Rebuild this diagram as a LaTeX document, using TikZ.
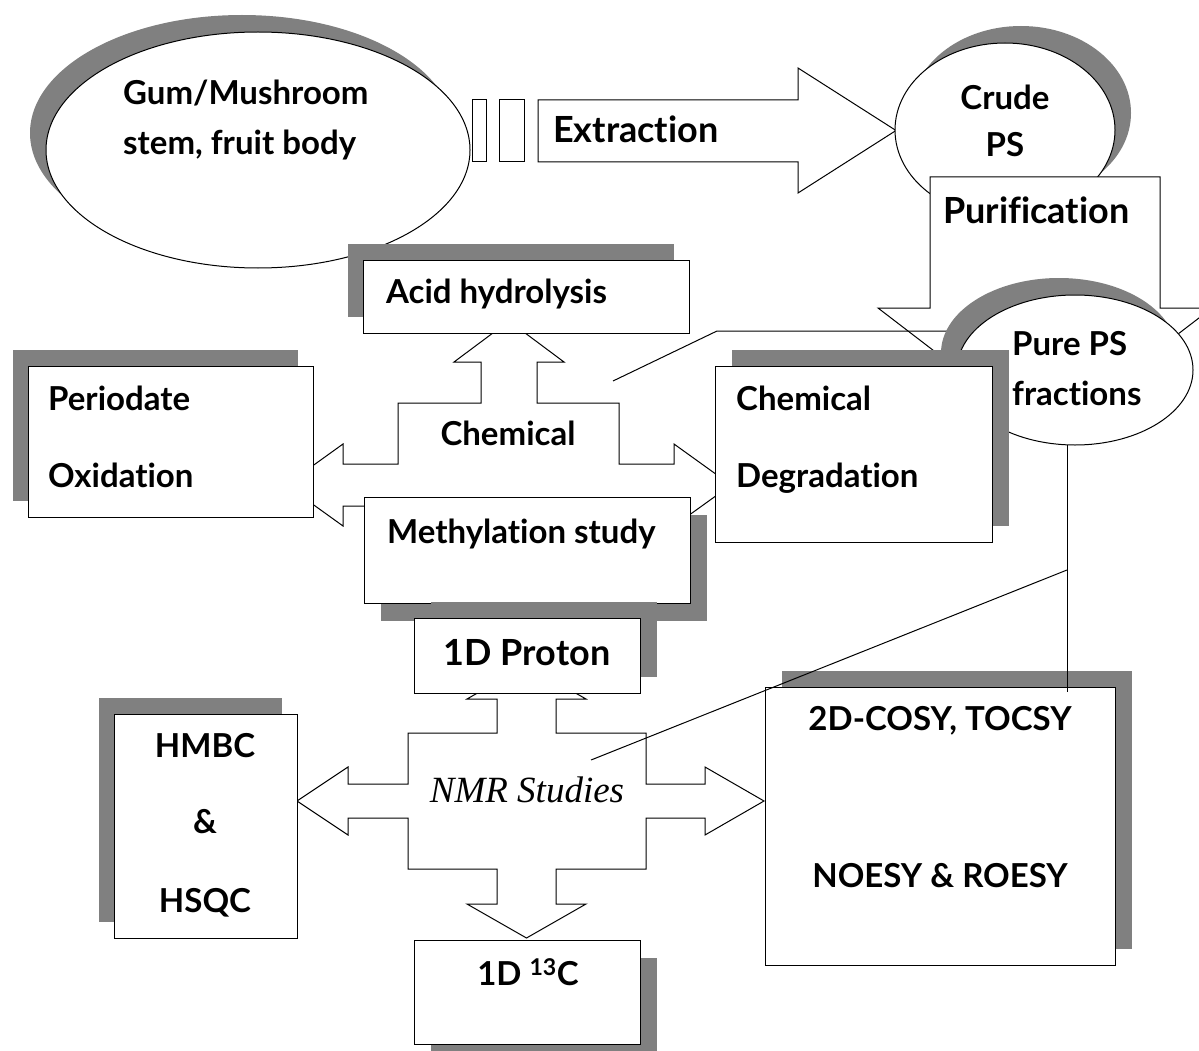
\documentclass[tikz,border=0pt]{standalone}
\usepackage{fontspec}
\setmainfont{Lato}[Ligatures=NoCommon]
\newfontfamily\nmrfont{Liberation Serif}
\usetikzlibrary{shapes.geometric, shadows}
\definecolor{shadegray}{gray}{0.5}
\tikzset{
  lbl/.style={font=\bfseries\fontsize{33}{40}\selectfont, inner sep=0pt},
  biglbl/.style={font=\bfseries\fontsize{36}{43}\selectfont, inner sep=0pt},
  box/.style={draw, fill=white, line width=1.3pt, inner sep=0pt, anchor=north west},
  oval/.style={ellipse, draw, fill=white, line width=1pt, inner sep=0pt},
  blockarrow/.style={draw, fill=white, line width=1pt, line join=miter},
  shadeUL/.style={drop shadow={shadow xshift=-16pt, shadow yshift=17pt, fill=shadegray, opacity=1}},
  shadeUR/.style={drop shadow={shadow xshift=16pt, shadow yshift=17pt, fill=shadegray, opacity=1}},
  shadeDR/.style={drop shadow={shadow xshift=16pt, shadow yshift=-17pt, fill=shadegray, opacity=1}},
}
\begin{document}
\begin{tikzpicture}[x=1pt, y=-1pt]

  % Page frame
  \useasboundingbox (0,0) rectangle (1199,1051);
  \fill[white] (0,0) rectangle (1199,1051);

  % Source material
  \node[oval, shadeUL, minimum width=424pt, minimum height=236pt] (gum) at (258,150) {};
  \node[lbl, anchor=base west] (gumtxt) at (123,105) {Gum/Mushroom};
  \node[lbl, anchor=base west] (stemtxt) at (123,155) {stem, fruit body};

  % Extraction arrow with its two stripes
  \draw[blockarrow] (472,100) rectangle (486,162);
  \draw[blockarrow] (499,100) rectangle (524,162);
  \draw[blockarrow] (538,100) -- (798,100) -- (798,68) -- (896,130.5)
    -- (798,193) -- (798,162) -- (538,162) -- cycle;
  \node[biglbl, anchor=base west] (extract) at (553,143) {Extraction};

  % Crude PS
  \node[oval, shadeUR, minimum width=220pt, minimum height=174pt] (crude) at (1005,130) {};
  \node[lbl, anchor=base] (crudetxt) at (1005,110) {Crude};
  \node[lbl, anchor=base] (pstxt) at (1005,157) {PS};

  % Purification arrow (down)
  \draw[blockarrow] (930,177) -- (1160,177) -- (1160,308) -- (1212,308)
    -- (1045,436) -- (878,308) -- (930,308) -- cycle;
  \node[biglbl, anchor=base west] (purif) at (943,224) {Purification};

  % Chemical methods: four-way arrow
  \draw[blockarrow] (509,321) -- (564,362) -- (537,362) -- (537,403) -- (619,403)
    -- (619,464) -- (674,464) -- (674,444) -- (731,485) -- (674,526) -- (674,506)
    -- (619,506) -- (619,567) -- (537,567) -- (537,608) -- (564,608) -- (509,649)
    -- (454,608) -- (481,608) -- (481,567) -- (398,567) -- (398,506) -- (343,506)
    -- (343,526) -- (286,485) -- (343,444) -- (343,464) -- (398,464) -- (398,403)
    -- (481,403) -- (481,362) -- (454,362) -- cycle;
  \node[lbl, anchor=base] (chem) at (508,445) {Chemical};

  \node[box, shadeUL, minimum width=326pt, minimum height=73pt] (acid) at (363,260) {};
  \node[lbl, anchor=base west] (acidtxt) at (386,303) {Acid hydrolysis};

  \node[box, shadeUL, minimum width=285pt, minimum height=151pt] (perio) at (28,366) {};
  \node[lbl, anchor=base west] (periotxt) at (48,410) {Periodate};
  \node[lbl, anchor=base west] (oxidtxt) at (48,487) {Oxidation};

  \node[box, shadeDR, minimum width=326pt, minimum height=106pt] (methyl) at (364,497) {};
  \node[lbl, anchor=base west] (methyltxt) at (387,543) {Methylation study};

  % NMR methods: four-way arrow
  \draw[blockarrow] (526.5,665) -- (586,699) -- (556,699) -- (556,733) -- (646,733)
    -- (646,784) -- (705,784) -- (705,767) -- (764,801) -- (705,835) -- (705,818)
    -- (646,818) -- (646,869) -- (556,869) -- (556,904) -- (586,904) -- (526.5,938)
    -- (467,904) -- (497,904) -- (497,869) -- (408,869) -- (408,818) -- (348,818)
    -- (348,835) -- (297,801) -- (348,767) -- (348,784) -- (408,784) -- (408,733)
    -- (497,733) -- (497,699) -- (467,699) -- cycle;
  \node[anchor=base, inner sep=0pt, font=\nmrfont\itshape\fontsize{37}{44}\selectfont] (nmr) at (527,802) {NMR Studies};

  \node[box, shadeUR, minimum width=226pt, minimum height=75pt] (proton) at (414,618) {};
  \node[biglbl, anchor=base] (protontxt) at (527,665) {1D Proton};

  \node[box, shadeUL, minimum width=183pt, minimum height=224pt] (hmbc) at (114,714) {};
  \node[lbl, anchor=base] (hmbctxt) at (205,757) {HMBC};
  \node[lbl, anchor=base] (amptxt) at (205,833) {\&};
  \node[lbl, anchor=base] (hsqctxt) at (205,912) {HSQC};

  \node[box, shadeDR, minimum width=226pt, minimum height=104pt] (carbon) at (414,940) {};
  \node[lbl, anchor=base] (carbontxt) at (528,985) {1D \textsuperscript{13}C};

  \node[box, shadeUR, minimum width=350pt, minimum height=278pt] (cosy) at (765,687) {};
  \node[lbl, anchor=base] (cosytxt) at (940,730) {2D-COSY, TOCSY};
  \node[lbl, anchor=base] (noesytxt) at (940,887) {NOESY \& ROESY};

  % Callout lines from the pure fractions
  \coordinate (c1a) at (717,331);
  \coordinate (c1b) at (613,381);
  \coordinate (c2a) at (1067,692);
  \coordinate (c2b) at (1067,570);
  \coordinate (c2c) at (591,760);
  \node[oval, minimum width=236pt, minimum height=150pt, draw=none] (pure) at (1075,370) {};
  \draw[line width=1pt] (pure.center |- c1a) -- (c1a) -- (c1b);
  \draw[line width=1pt] (pure.center -| c2a) -- (c2a);
  \draw[line width=1pt] (c2b) -- (c2c);

  % Pure PS and chemical degradation
  \node[oval, shadeUL, minimum width=236pt, minimum height=150pt] at (pure) {};
  \node[lbl, anchor=base west] (puretxt) at (1012,355) {Pure PS};
  \node[lbl, anchor=base west] (fractxt) at (1012,405) {fractions};

  \node[box, shadeUR, minimum width=277pt, minimum height=176pt] (cdeg) at (715,366) {};
  \node[lbl, anchor=base west] (cdegtxt) at (736,410) {Chemical};
  \node[lbl, anchor=base west] (degrtxt) at (736,487) {Degradation};

\end{tikzpicture}
\end{document}
